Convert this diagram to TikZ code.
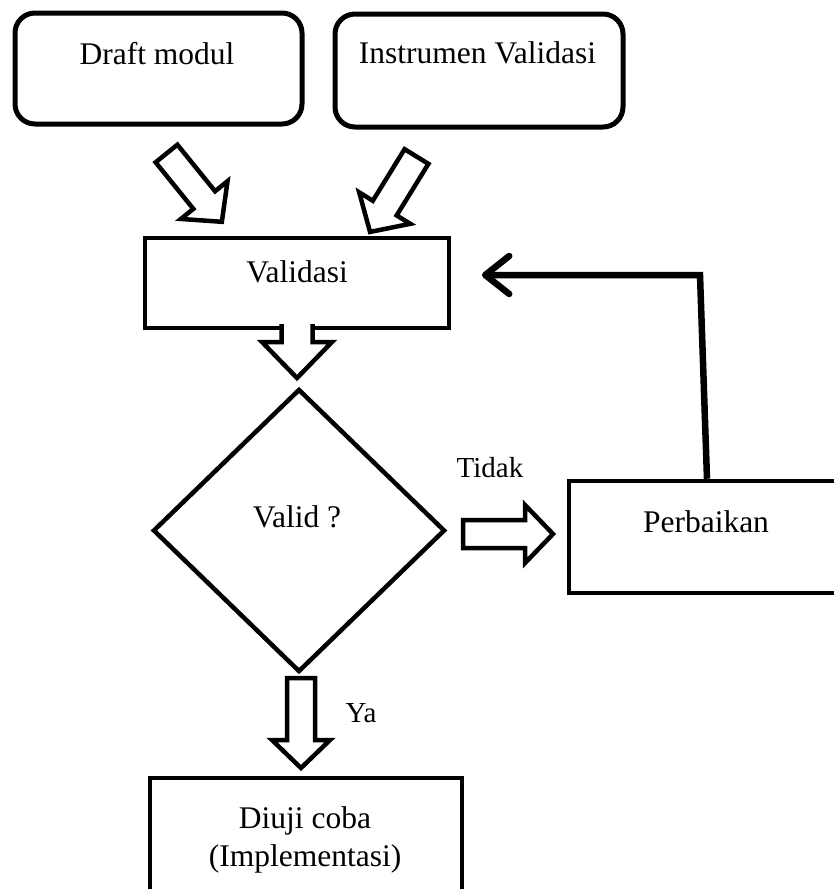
\documentclass[tikz,border=0pt]{standalone}
\usepackage{fontspec}
\setmainfont{Liberation Serif}
\usetikzlibrary{arrows.meta,shapes.geometric,calc}

\tikzset{
  rbox/.style={draw, line width=5pt, rounded corners=20pt, inner sep=0pt},
  sbox/.style={draw, line width=4.5pt, inner sep=0pt},
  dbox/.style={diamond, draw, line width=4.5pt, inner sep=0pt},
  txt/.style={anchor=base, inner sep=0pt, font=\fontsize{31.5}{38}\selectfont},
  lbl/.style={anchor=base, inner sep=0pt, font=\fontsize{29}{34}\selectfont},
  barrow/.style={draw, line width=4.5pt, fill=white, line join=miter},
  feedback/.style={line width=6.5pt, -{Straight Barb[length=24pt, width=38pt, round]}},
}

% #1 tail coordinate, #2 tip coordinate, #3 shaft half width,
% #4 head half width, #5 head length, #6 closing (-- cycle or empty)
\newcommand\blockarrow[6]{%
  \path let \p1=(#1), \p2=(#2) in \pgfextra{%
    \pgfmathsetmacro\baang{atan2(\y2-\y1,\x2-\x1)}%
    \pgfmathsetmacro\balen{veclen(\x2-\x1,\y2-\y1)}%
    \global\let\baang\baang \global\let\balen\balen};
  \begin{scope}[shift={(#1)}, rotate=\baang]
    \draw[barrow] (0,#3) -- (\balen-#5,#3) -- (\balen-#5,#4) -- (\balen,0)
      -- (\balen-#5,-#4) -- (\balen-#5,-#3) -- (0,-#3) #6;
  \end{scope}}

\begin{document}
\begin{tikzpicture}[x=1pt,y=1pt]
\useasboundingbox (0,0) rectangle (833,-889);
\fill[white] (0,0) rectangle (833,-889);

% boxes
\node[rbox, minimum width=287pt, minimum height=111pt] (draft) at (158.5,-68.5) {};
\node[txt] (draftT) at (157,-64) {Draft modul};
\node[rbox, minimum width=288pt, minimum height=113pt] (inst) at (479,-70.5) {};
\node[txt] (instT) at (477.5,-63) {Instrumen Validasi};
\node[sbox, minimum width=304pt, minimum height=90pt] (val) at (297,-283) {};
\node[txt] (valT) at (297,-282) {Validasi};
\node[dbox, minimum width=292pt, minimum height=283pt] (diam) at (299,-530.5) {};
\node[txt] (diamT) at (297,-527) {Valid ?};
\node[sbox, minimum width=276pt, minimum height=112pt] (perb) at (707,-537) {};
\node[txt] (perbT) at (706,-532) {Perbaikan};
\node[sbox, minimum width=312pt, minimum height=117pt] (uji) at (306,-836.5) {};
\node[txt] (ujiT1) at (305,-828) {Diuji coba};
\node[txt] (ujiT2) at (305,-866) {(Implementasi)};

% labels
\node[lbl] (tidak) at (490,-477) {Tidak};
\node[lbl] (ya) at (361,-722) {Ya};

% block arrow end points
\coordinate (a1t) at (166.5,-153.5);
\coordinate (a1h) at (222,-222);
\coordinate (a2t) at (416.5,-156.5);
\coordinate (a2h) at (370,-232);
\coordinate (a3t) at (297,-324);
\coordinate (a3h) at (297,-378);
\coordinate (a4t) at (463,-534);
\coordinate (a4h) at (553,-534);
\coordinate (a5t) at (301,-678);
\coordinate (a5h) at (301,-768);

\blockarrow{a1t}{a1h}{14}{30}{28}{-- cycle}
\blockarrow{a2t}{a2h}{14}{30}{28}{-- cycle}
\blockarrow{a3t}{a3h}{15.5}{35}{36}{}
\blockarrow{a4t}{a4h}{14}{29}{28}{-- cycle}
\blockarrow{a5t}{a5h}{14}{29}{28}{-- cycle}

% feedback connector
\coordinate (fbc) at (700,-275);
\coordinate (fbtip) at (482,-275);
\draw[feedback] (perb.north) -- (fbc) -- (fbtip);
\end{tikzpicture}
\end{document}
